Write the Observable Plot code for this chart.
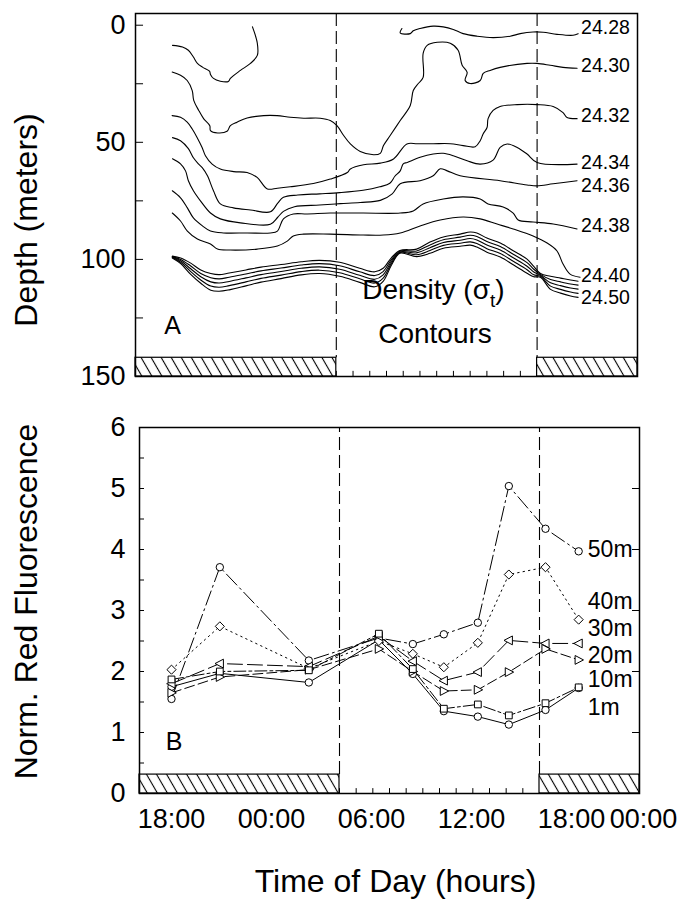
<!DOCTYPE html>
<html><head><meta charset="utf-8">
<script src="https://cdn.jsdelivr.net/npm/d3@7"></script>
<script src="https://cdn.jsdelivr.net/npm/@observablehq/plot@0.6"></script>
<style>
html,body{margin:0;padding:0;background:#fff;}
#chart{position:relative;width:678px;height:899px;overflow:hidden;background:#fff;}
#chart svg{position:absolute;left:0;}
</style></head><body><div id="chart"></div>
<script>
const FONT = "'Liberation Sans', Arial, Helvetica, sans-serif";

// ---------- axes / ticks ----------
const clockHours = [0, 6, 12, 18, 24, 30];
const clockLabels = ["18:00", "00:00", "06:00", "12:00", "18:00", "00:00"];
const nightBlocks = [{start: 0, end: 12}, {start: 24, end: 30}];
const dayLines = [12, 24];
const depthTickLabels = [0, 50, 100, 150];
const depthTicks = [0, 25, 50, 75, 100, 125, 150];
const fluorTickLabels = [0, 1, 2, 3, 4, 5, 6];
const fluorTicks = [0, 0.5, 1, 1.5, 2, 2.5, 3, 3.5, 4, 4.5, 5, 5.5, 6];
const fluorRightTicks = [1, 2, 3, 4, 5];
const hourTicks = [0,1,2,3,4,5,6,7,8,9,10,11,12,13,14,15,16,17,18,19,20,21,22,23,24,25,26,27,28,29,30];

// ---------- panel A: density contours [hours since 18:00, depth m] ----------
const c2428a = [[2.21,8.6],[2.81,9.3],[3.16,10.7],[3.46,13.6],[3.70,16.3],[4.0,17.9],[4.42,19.6],[4.48,21.0],[4.66,22.7],[5.07,23.9],[5.55,24.0],[5.67,22.7],[6.27,19.3],[6.87,16.3],[7.28,12.9],[7.28,7.7],[6.99,0.7]];
const c2428b = [[15.92,1.4],[15.82,3.3],[16.42,3.6],[16.6,2.4],[17.01,1.4],[17.79,0.4],[18.39,0.7],[18.99,1.8],[19.58,3.6],[20.42,4.7],[21.37,5.3],[22.39,4.7],[22.99,3.6],[23.76,2.9],[24.36,3.0],[25.19,3.9],[26.15,4.3],[26.45,3.6]];
const c2430 = [[2.19,20.0],[2.69,21.4],[3.09,23.6],[3.39,27.9],[3.48,32.1],[3.78,36.4],[4.08,40.0],[4.44,42.9],[4.48,45.0],[4.91,46.0],[5.47,45.3],[5.67,42.9],[6.07,41.4],[6.67,39.6],[7.66,38.6],[8.46,38.6],[9.25,39.3],[10.05,39.7],[11.04,39.7],[11.64,40.7],[12.04,42.9],[12.44,47.1],[12.84,50.7],[13.43,53.9],[14.23,55.3],[14.63,54.7],[14.82,51.4],[15.22,47.1],[15.82,40.7],[16.42,34.3],[16.60,27.9],[16.90,24.9],[17.19,22.3],[17.19,12.0],[17.43,8.6],[18.03,7.3],[18.81,7.7],[19.28,10.7],[19.52,17.1],[19.82,20.1],[19.70,23.6],[20.0,24.9],[20.60,23.6],[20.78,20.6],[21.19,19.3],[21.79,18.0],[23.40,16.3],[24.0,16.3],[24.78,17.1],[25.55,18.0],[26.39,18.4]];
const c2432 = [[2.19,38.6],[2.69,39.3],[3.09,41.4],[3.39,44.3],[3.68,47.9],[3.98,52.2],[4.18,55.7],[4.58,59.3],[5.07,61.4],[5.87,62.5],[6.67,62.9],[7.27,65.0],[7.88,69.9],[8.48,69.6],[9.25,69.0],[10.63,67.6],[11.64,65.7],[12.66,62.9],[12.84,61.4],[13.63,59.6],[14.63,58.9],[15.42,57.1],[16.22,50.7],[16.84,50.6],[17.79,50.6],[18.81,50.6],[19.58,51.4],[20.30,51.9],[20.60,49.3],[20.78,46.3],[21.01,43.7],[21.07,39.9],[21.37,36.4],[21.79,34.7],[22.81,33.9],[24.0,33.9],[24.96,34.7],[25.55,37.3],[25.79,39.4],[26.39,39.9]];
const c2434 = [[2.21,48.0],[2.69,49.3],[3.16,52.7],[3.46,56.6],[3.76,59.2],[4.0,60.9],[4.30,64.3],[4.66,70.7],[5.07,76.3],[5.85,78.0],[6.87,78.9],[8.06,79.7],[8.5,76.0],[8.84,73.5],[9.7,72.5],[11.0,72.0],[12.2,71.5],[13.6,70.5],[14.6,69.0],[15.2,67.5],[15.5,64.5],[15.82,62.2],[16.0,59.2],[16.24,58.6],[17.01,56.4],[17.79,55.0],[18.39,54.7],[18.99,55.7],[19.82,57.9],[20.60,59.3],[21.37,57.6],[21.79,52.2],[22.21,50.7],[22.81,52.2],[23.40,55.0],[24.0,58.6],[26.39,59.3]];
const c2436 = [[2.21,57.0],[2.69,59.2],[2.99,62.2],[3.16,66.4],[3.46,70.7],[3.88,75.0],[4.48,80.2],[5.07,82.7],[6.27,84.4],[8.06,85.0],[8.5,82.0],[8.84,79.5],[9.5,77.5],[11.0,76.8],[12.24,76.2],[13.43,75.7],[14.63,74.8],[15.34,72.0],[15.82,67.7],[17.01,66.4],[17.79,64.3],[18.21,61.3],[18.63,62.2],[19.40,64.3],[21.79,66.4],[23.40,68.2],[24.0,68.6],[24.96,67.7],[26.39,66.4]];
const c2438 = [[2.2,70.7],[2.69,73.7],[3.10,78.0],[3.46,82.3],[4.0,85.7],[4.48,87.9],[5.25,88.7],[6.69,88.7],[8.06,88.7],[8.48,87.9],[8.84,82.7],[9.43,80.6],[10.27,80.6],[11.64,80.2],[13.61,80.2],[15.82,80.2],[16.60,79.3],[17.19,76.3],[18.39,74.2],[19.58,73.3],[20.60,74.2],[21.07,76.3],[21.97,77.6],[22.57,80.2],[22.87,83.2],[23.76,84.0],[24.96,84.9],[26.39,87.0]];
const c2440 = [[2.2,80.2],[2.69,83.6],[3.10,87.9],[3.70,91.3],[4.48,93.4],[4.90,95.6],[5.67,96.0],[7.28,95.6],[8.48,94.3],[9.07,92.2],[9.43,90.0],[10.03,89.2],[11.64,89.2],[13.61,89.6],[14.81,89.6],[15.82,88.7],[17.01,85.7],[18.21,83.2],[19.58,81.9],[20.60,82.7],[21.61,84.9],[22.57,87.0],[23.76,90.0],[24.60,93.0],[25.19,96.4],[25.55,102.0],[25.97,106.3],[26.57,107.6]];
// the tight bundle 24.42 ... 24.50, sampled at common hours
const bundleHours = [2.2,2.7,3.3,3.9,4.5,5.0,5.6,6.6,7.5,8.7,9.9,11.0,12.2,13.4,14.3,14.8,15.3,15.8,16.8,17.6,18.4,19.4,20.0,20.4,21.0,21.8,22.6,23.4,23.8,24.2,24.8,25.4,26.0,26.45];
const c2442 = [98.6,99.4,101.6,104.5,106.0,106.5,105.8,104.5,103.3,102.2,101.0,100.4,101.2,103.8,105.3,103.8,99.2,96.2,95.6,92.6,90.4,89.2,88.3,88.7,90.9,93.0,96.4,99.9,103.0,106.0,107.2,108.0,108.8,109.3];
const c2444 = [98.8,100.0,102.8,106.0,107.8,108.3,107.6,106.2,104.9,103.7,102.4,101.8,102.7,105.3,106.9,105.2,100.0,96.5,96.4,93.8,91.6,90.5,89.7,90.2,92.4,94.5,97.9,101.4,104.2,106.4,108.6,109.6,110.5,111.0];
const c2446 = [99.0,100.6,104.0,107.4,109.6,110.1,109.4,107.9,106.5,105.2,103.8,103.2,104.2,106.8,108.5,106.6,100.8,96.8,97.2,95.0,92.8,91.8,91.1,91.7,93.9,96.0,99.4,102.9,105.4,106.8,110.0,111.2,112.2,112.7];
const c2448 = [99.2,101.2,105.2,108.8,111.4,111.9,111.2,109.6,108.1,106.7,105.2,104.6,105.7,108.3,110.1,108.0,101.6,97.1,98.0,96.2,94.0,93.1,92.5,93.2,95.4,97.5,100.9,104.4,106.6,107.2,111.4,112.8,113.9,114.5];
const c2450 = [99.4,101.8,106.4,110.2,113.2,113.6,113.0,111.3,109.7,108.2,106.6,106.0,107.2,109.8,111.7,109.4,102.4,97.4,98.8,97.4,95.2,94.4,93.9,94.7,96.9,99.0,102.4,105.9,107.4,107.6,112.8,114.4,115.6,116.2];

const contourLabelText = ["24.28", "24.30", "24.32", "24.34", "24.36", "24.38", "24.40", "24.50"];
const contourLabelDepth = [0.9, 17.1, 38.6, 58.6, 68.6, 85.7, 107.1, 116.4];

// ---------- panel B: normalized red fluorescence ----------
const sampleHours = [1.92, 4.82, 10.16, 14.36, 16.40, 18.26, 20.30, 22.16, 24.36, 26.35];
const f50m = [1.55, 3.71, 2.18, 2.55, 2.45, 2.61, 2.80, 5.04, 4.34, 3.97];
const f40m = [2.03, 2.74, 2.05, 2.50, 2.29, 2.07, 2.47, 3.59, 3.71, 2.85];
const f30m = [1.80, 2.13, 2.08, 2.58, 2.17, 1.85, 1.99, 2.51, 2.46, 2.46];
const f20m = [1.65, 1.91, 2.03, 2.37, 2.00, 1.68, 1.70, 1.99, 2.37, 2.19];
const f10m = [1.87, 2.00, 2.02, 2.62, 2.04, 1.39, 1.46, 1.28, 1.48, 1.74];
const f1m  = [1.75, 1.97, 1.82, 2.52, 1.96, 1.35, 1.26, 1.13, 1.37, 1.73];
const seriesNames = ["50m", "40m", "30m", "20m", "10m", "1m"];
const seriesLabelY = [4.0, 3.15, 2.71, 2.26, 1.87, 1.41];

// ---------- build tables ----------
const contourSets = [
  ["24.28a", c2428a], ["24.28b", c2428b], ["24.30", c2430], ["24.32", c2432],
  ["24.34", c2434], ["24.36", c2436], ["24.38", c2438], ["24.40", c2440]
];
const bundleSets = [["24.42", c2442], ["24.44", c2444], ["24.46", c2446], ["24.48", c2448], ["24.50", c2450]];
const contourRows = [
  ...contourSets.flatMap(([id, pts]) => pts.map(([h, d]) => ({id, h, d}))),
  ...bundleSets.flatMap(([id, ds]) => ds.map((d, i) => ({id, h: bundleHours[i], d})))
];
const contourLabels = contourLabelText.map((label, i) => ({label, d: contourLabelDepth[i]}));

const seriesValues = [f50m, f40m, f30m, f20m, f10m, f1m];
const fluorRows = seriesNames.flatMap((name, s) => seriesValues[s].map((v, i) => ({name, t: sampleHours[i], v})));
const legendRows = seriesNames.map((name, i) => ({name, v: seriesLabelY[i]}));

// marker shapes
const triLeft = {draw(ctx, size) { const r = Math.sqrt(size / Math.PI); ctx.moveTo(-r * 1.15, 0); ctx.lineTo(r * 0.85, -r * 1.05); ctx.lineTo(r * 0.85, r * 1.05); ctx.closePath(); }};
const triRight = {draw(ctx, size) { const r = Math.sqrt(size / Math.PI); ctx.moveTo(r * 1.15, 0); ctx.lineTo(-r * 0.85, -r * 1.05); ctx.lineTo(-r * 0.85, r * 1.05); ctx.closePath(); }};
const seriesStyle = {
  "50m": {dash: "15 4 2 4", symbol: "circle", r: 3.7},
  "40m": {dash: "1.5 4", symbol: "diamond2", r: 4.1},
  "30m": {dash: "15 5", symbol: triLeft, r: 4.2},
  "20m": {dash: "10 4", symbol: triRight, r: 4.2},
  "10m": {dash: "12 3 3 3", symbol: "square2", r: 4.3},
  "1m":  {dash: null, symbol: "circle", r: 3.7}
};
const dotOrder = ["1m", "50m", "40m", "30m", "20m", "10m"];

function addHatch(svg, id) {
  const defs = d3.select(svg).insert("defs", ":first-child");
  const p = defs.append("pattern").attr("id", id).attr("patternUnits", "userSpaceOnUse")
    .attr("width", 8.7).attr("height", 8.7).attr("patternTransform", "rotate(-30)");
  p.append("rect").attr("width", 8.7).attr("height", 8.7).attr("fill", "white");
  p.append("line").attr("x1", 4.35).attr("x2", 4.35).attr("y1", 0).attr("y2", 8.7)
    .attr("stroke", "black").attr("stroke-width", 1.1);
}

const baseStyle = {fontFamily: FONT, color: "black", background: "transparent", overflow: "visible"};

// ---------- top plot ----------
const topPlot = Plot.plot({
  width: 678, height: 390,
  marginLeft: 135, marginRight: 41, marginTop: 13, marginBottom: 14,
  style: baseStyle,
  x: {domain: [0, 30], axis: null},
  y: {domain: [150, -5]},
  marks: [
    Plot.ruleX(dayLines, {y1: -5, y2: 142, stroke: "black", strokeWidth: 1.1, strokeDasharray: "13 5"}),
    Plot.ruleX(hourTicks, {y1: 150, y2: 147.8, stroke: "black"}),
    Plot.ruleY(depthTicks, {x1: 0, x2: 0.48, stroke: "black"}),
    Plot.line(contourRows, {x: "h", y: "d", z: "id", stroke: "black", strokeWidth: 1.1, curve: "catmull-rom"}),
    Plot.rect(nightBlocks, {x1: "start", x2: "end", y1: 142, y2: 150, fill: "url(#hatchA)", stroke: "black", strokeWidth: 1.2}),
    Plot.text(contourLabels, {x: 26.63, y: "d", text: "label", textAnchor: "start", fontSize: 19.5, fill: "black"}),
    Plot.text(["A"], {x: 2.21, y: 128.6, text: d => d, fontSize: 25, fill: "black"}),
    Plot.text(["Density (σt)"], {x: 17.8, y: 116.7, text: d => d, fontSize: 28, lineAnchor: "bottom", fill: "black"}),
    Plot.text(["Contours"], {x: 17.9, y: 135.9, text: d => d, fontSize: 28, lineAnchor: "bottom", fill: "black"}),
    Plot.axisY(depthTickLabels, {anchor: "left", tickSize: 0, tickPadding: 10, fontSize: 27, label: null, tickFormat: d => String(d)}),
    Plot.text(["Depth (meters)"], {frameAnchor: "left", text: d => d, rotate: -90, dx: -99, dy: 25, textAnchor: "middle", lineAnchor: "bottom", fontSize: 32, fill: "black"}),
    Plot.frame({stroke: "black", strokeWidth: 1.5})
  ]
});
addHatch(topPlot, "hatchA");
d3.select(topPlot).selectAll("text").filter(function () { return this.textContent === "Density (σt)"; })
  .each(function () {
    const t = d3.select(this); t.text(null);
    t.append("tspan").text("Density (σ");
    t.append("tspan").attr("font-size", "19").attr("dy", 8).text("t");
    t.append("tspan").attr("dy", -8).text(")");
  });
topPlot.style.top = "0px";

// ---------- bottom plot ----------
const marksB = [
  Plot.ruleX(dayLines, {y1: 0.31, y2: 6, stroke: "black", strokeWidth: 1.1, strokeDasharray: "13 5"}),
  Plot.ruleX(hourTicks, {y1: 0, y2: 0.08, stroke: "black"}),
  Plot.ruleY(fluorTicks, {x1: 0, x2: 0.3, stroke: "black"}),
  Plot.ruleY(fluorRightTicks, {x1: 29.58, x2: 30, stroke: "black"}),
  Plot.rect(nightBlocks, {x1: "start", x2: "end", y1: 0, y2: 0.31, fill: "url(#hatchB)", stroke: "black", strokeWidth: 1.2})
];
for (const name of seriesNames) {
  const st = seriesStyle[name];
  marksB.push(Plot.line(fluorRows.filter(d => d.name === name), {x: "t", y: "v", stroke: "black", strokeWidth: 1, strokeDasharray: st.dash || undefined}));
}
for (const name of dotOrder) {
  const st = seriesStyle[name];
  marksB.push(Plot.dot(fluorRows.filter(d => d.name === name), {x: "t", y: "v", symbol: st.symbol, r: st.r, fill: "white", stroke: "black", strokeWidth: 1}));
}
marksB.push(
  Plot.text(legendRows, {x: 26.9, y: "v", text: "name", textAnchor: "start", fontSize: 23, fill: "black"}),
  Plot.text(["B"], {x: 2.07, y: 0.85, text: d => d, fontSize: 25, fill: "black"}),
  Plot.axisY(fluorTickLabels, {anchor: "left", tickSize: 0, tickPadding: 14, fontSize: 27, label: null, tickFormat: d => String(d)}),
  Plot.axisX(clockHours.slice(0, 5), {anchor: "bottom", tickSize: 0, tickPadding: 15, dx: 32, fontSize: 27, label: null, tickFormat: d => clockLabels[clockHours.indexOf(d)]}),
  Plot.axisX(clockHours.slice(5), {anchor: "bottom", tickSize: 0, tickPadding: 15, dx: 4, fontSize: 27, label: null, tickFormat: d => clockLabels[clockHours.indexOf(d)]}),
  Plot.text(["Norm. Red Fluorescence"], {frameAnchor: "left", text: d => d, rotate: -90, dx: -103, dy: -9, textAnchor: "middle", lineAnchor: "bottom", fontSize: 32, fill: "black"}),
  Plot.text(["Time of Day (hours)"], {frameAnchor: "bottom", text: d => d, dx: 6, dy: 98, textAnchor: "middle", lineAnchor: "bottom", fontSize: 32, fill: "black"}),
  Plot.frame({stroke: "black", strokeWidth: 1.5})
);
const bottomPlot = Plot.plot({
  width: 678, height: 509,
  marginLeft: 139, marginRight: 39, marginTop: 37, marginBottom: 106,
  style: baseStyle,
  x: {domain: [0, 30]},
  y: {domain: [0, 6]},
  marks: marksB
});
addHatch(bottomPlot, "hatchB");
bottomPlot.style.top = "390px";

const chart = document.getElementById("chart");
chart.appendChild(topPlot);
chart.appendChild(bottomPlot);
</script></body></html>
